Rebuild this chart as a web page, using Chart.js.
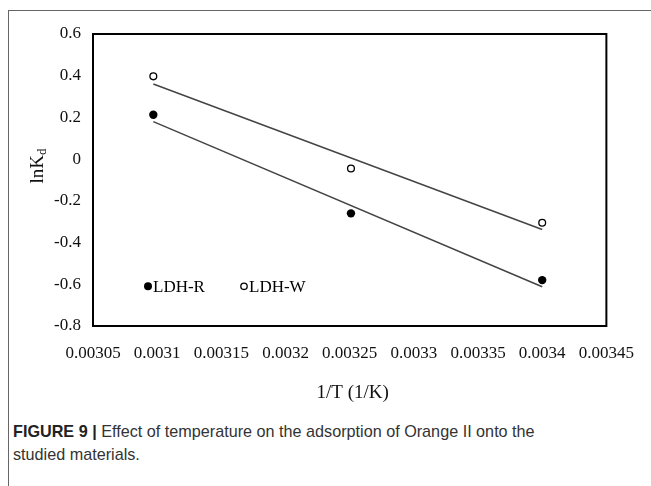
<!DOCTYPE html>
<html>
<head>
<meta charset="utf-8">
<script src="https://cdn.jsdelivr.net/npm/chart.js@4.4.1/dist/chart.umd.min.js"></script>
<style>
  html, body { margin: 0; padding: 0; background: #fff; overflow: hidden; }
  body { width: 651px; height: 486px; position: relative; }
  .frame { position: absolute; left: 8px; top: 10px; width: 700px; height: 520px; border: 1px solid #666; box-sizing: border-box; }
  .plot { position: absolute; left: 0; top: 0; width: 651px; height: 410px; }
  .caption { position: absolute; left: 13px; top: 420px; width: 630px; font-family: "Liberation Sans", Arial, sans-serif; font-size: 16.2px; line-height: 23px; color: #333; }
  .caption b { color: #222; }
</style>
</head>
<body>
<div class="frame"></div>
<div class="plot"><canvas id="chart" width="651" height="410"></canvas></div>
<div class="caption"><b>FIGURE 9 |</b> Effect of temperature on the adsorption of Orange II onto the<br>studied materials.</div>
<script>
// 1/T values (1/K) and lnKd for each material
const invT = [0.003097, 0.003251, 0.0034];
const ldhR = [0.213, -0.26, -0.58];
const ldhW = [0.397, -0.045, -0.305];

// fitted lines, read at the first and last temperature
const fitX = [0.003097, 0.0034];
const fitR = [0.18, -0.612];
const fitW = [0.36, -0.337];

const xTicks = [0.00305, 0.0031, 0.00315, 0.0032, 0.00325, 0.0033, 0.00335, 0.0034, 0.00345];
const yTicks = [0.6, 0.4, 0.2, 0, -0.2, -0.4, -0.6, -0.8];
const xTickLabels = ['0.00305', '0.0031', '0.00315', '0.0032', '0.00325', '0.0033', '0.00335', '0.0034', '0.00345'];
const yTickLabels = ['0.6', '0.4', '0.2', '0', '-0.2', '-0.4', '-0.6', '-0.8'];

const serif = 'Liberation Serif';
Chart.defaults.font.family = serif;

function pts(xs, ys) { return xs.map((x, i) => ({ x: x, y: ys[i] })); }

// frame, axis titles and the in-plot legend
const decorations = {
  id: 'decorations',
  afterDraw(chart) {
    const ctx = chart.ctx;
    const a = chart.chartArea;
    ctx.save();
    ctx.strokeStyle = '#000';
    ctx.lineWidth = 2;
    ctx.strokeRect(a.left, a.top, a.right - a.left, a.bottom - a.top);

    ctx.fillStyle = '#111';
    ctx.textBaseline = 'middle';
    ctx.textAlign = 'center';
    ctx.font = '19px ' + serif;
    ctx.fillText('1/T (1/K)', (a.left + a.right) / 2 + 3, 393);

    // y title with subscript, rotated
    ctx.save();
    ctx.translate(38, 166);
    ctx.rotate(-Math.PI / 2);
    ctx.textAlign = 'left';
    ctx.font = '19px ' + serif;
    const w = ctx.measureText('lnK').width;
    ctx.font = '13px ' + serif;
    const wd = ctx.measureText('d').width;
    const x0 = -(w + wd) / 2;
    ctx.font = '19px ' + serif;
    ctx.fillText('lnK', x0, 0);
    ctx.font = '13px ' + serif;
    ctx.fillText('d', x0 + w, 5);
    ctx.restore();

    // legend
    const ly = chart.scales.y.getPixelForValue(-0.6) + 2;
    ctx.font = '17px ' + serif;
    ctx.textAlign = 'left';
    ctx.fillStyle = '#000';
    ctx.beginPath();
    ctx.arc(148, ly, 4, 0, Math.PI * 2);
    ctx.fill();
    ctx.fillText('LDH-R', 153, ly + 1);
    ctx.beginPath();
    ctx.arc(244, ly, 3.2, 0, Math.PI * 2);
    ctx.lineWidth = 1.3;
    ctx.stroke();
    ctx.fillText('LDH-W', 249, ly + 1);
    ctx.restore();
  }
};

new Chart(document.getElementById('chart'), {
  type: 'scatter',
  data: {
    datasets: [
      {
        label: 'LDH-R fit', data: pts(fitX, fitR), showLine: true,
        borderColor: '#444', borderWidth: 1.5, pointRadius: 0
      },
      {
        label: 'LDH-W fit', data: pts(fitX, fitW), showLine: true,
        borderColor: '#444', borderWidth: 1.5, pointRadius: 0
      },
      {
        label: 'LDH-R', data: pts(invT, ldhR),
        pointRadius: 4.2, pointBackgroundColor: '#000', pointBorderColor: '#000', pointBorderWidth: 0
      },
      {
        label: 'LDH-W', data: pts(invT, ldhW),
        pointRadius: 3.4, pointBackgroundColor: '#fff', pointBorderColor: '#000', pointBorderWidth: 1.3
      }
    ]
  },
  options: {
    responsive: false,
    animation: false,
    layout: { padding: { left: 0, top: 34, right: 37, bottom: 0 } },
    plugins: { legend: { display: false }, tooltip: { enabled: false } },
    scales: {
      x: {
        type: 'linear', min: 0.00305, max: 0.00345,
        afterBuildTicks: s => { s.ticks = xTicks.map(v => ({ value: v })); },
        afterFit: s => { s.height = 410 - 326; },
        grid: { display: false, drawTicks: false },
        border: { display: false },
        ticks: {
          padding: 17,
          color: '#111',
          font: { family: serif, size: 17 },
          maxRotation: 0, autoSkip: false,
          callback: (v, i) => xTickLabels[i]
        }
      },
      y: {
        type: 'linear', min: -0.8, max: 0.6,
        afterBuildTicks: s => { s.ticks = yTicks.map(v => ({ value: v })); },
        afterFit: s => { s.width = 93; },
        grid: { display: false, drawTicks: false },
        border: { display: false },
        ticks: {
          padding: 12,
          color: '#111',
          font: { family: serif, size: 17 },
          autoSkip: false,
          callback: (v, i) => yTickLabels[i]
        }
      }
    }
  },
  plugins: [decorations]
});
</script>
</body>
</html>
